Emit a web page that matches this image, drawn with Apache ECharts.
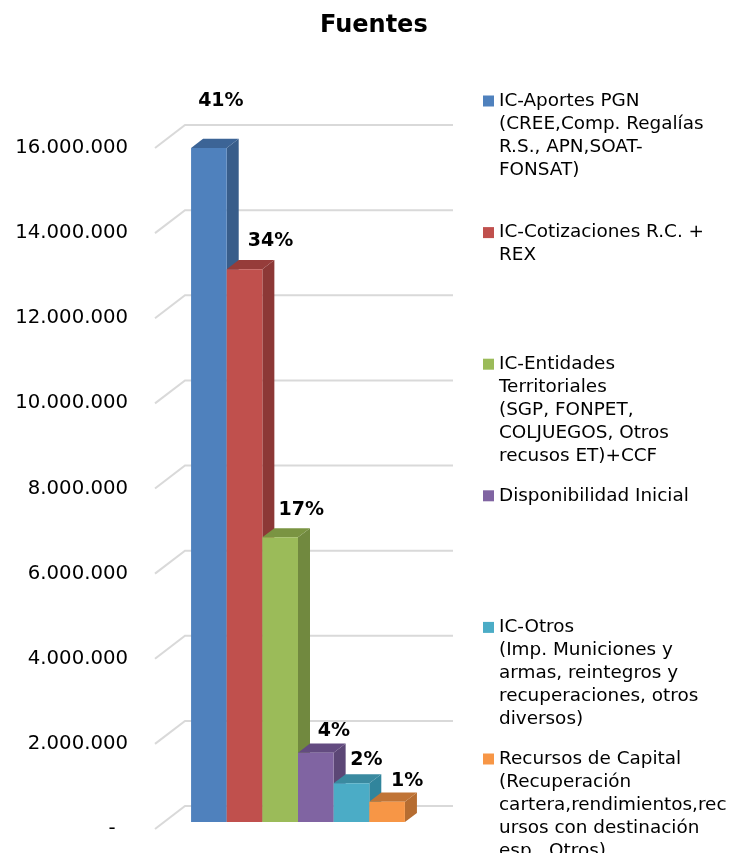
<!DOCTYPE html>
<html>
<head>
<meta charset="utf-8">
<script src="https://cdn.jsdelivr.net/npm/echarts@6/dist/echarts.min.js"></script>
<style>
  html, body { margin: 0; padding: 0; background: #fff; }
  #chart { width: 736px; height: 853px; }
</style>
</head>
<body>
<div id="chart"></div>
<script>
// ---- data ----
const categories = ['Fuentes'];
const seriesNames = [
  'IC-Aportes PGN\n(CREE,Comp. Regalías\nR.S., APN,SOAT-\nFONSAT)',
  'IC-Cotizaciones R.C. +\nREX',
  'IC-Entidades\nTerritoriales\n(SGP, FONPET,\nCOLJUEGOS, Otros\nrecusos ET)+CCF',
  'Disponibilidad Inicial',
  'IC-Otros\n(Imp. Municiones y\narmas, reintegros y\nrecuperaciones, otros\ndiversos)',
  'Recursos de Capital\n(Recuperación\ncartera,rendimientos,rec\nursos con destinación\nesp., Otros)'
];
const seriesValues = [15840000, 12990000, 6690000, 1630000, 910000, 480000];
const pctLabels = ['41%', '34%', '17%', '4%', '2%', '1%'];
const yTicks = [0, 2000000, 4000000, 6000000, 8000000, 10000000, 12000000, 14000000, 16000000];

// front, side, top colours
const barColors = [
  ['#4f81bd', '#385d8a', '#3c6496'],
  ['#c0504d', '#8c3836', '#963c3a'],
  ['#9bbb59', '#71893f', '#7a9442'],
  ['#8064a2', '#5c4776', '#634b80'],
  ['#4bacc6', '#31859c', '#3a8aa0'],
  ['#f79646', '#b66d31', '#c07436']
];
// small label nudges (px) as in the original picture
const labelShift = [[-6, -22], [8, -3], [3, -2], [0, 3], [-3, 2], [2, 4]];

const FONT = 'DejaVu Sans';
const DEPTH = [30, -23];     // full depth of the 3d box (px)
const BAR_RATIO = 0.133;      // width of one bar in the category band
const LEGEND_LH = 23;

function fmtNum(v) {
  if (v === 0) return '-  ';
  return String(v).replace(/\B(?=(\d{3})+(?!\d))/g, '.');
}

// gridlines in oblique perspective
function gridRenderer(params, api) {
  const cs = params.coordSys;
  const p = api.coord([0, api.value(1)]);
  const x = cs.x, y = p[1];
  return {
    type: 'polyline',
    shape: { points: [[x, y], [x + DEPTH[0], y + DEPTH[1]], [x + cs.width + DEPTH[0], y + DEPTH[1]]] },
    style: { stroke: '#d9d9d9', lineWidth: 2, fill: null }
  };
}

function barRenderer(idx) {
  return function (params, api) {
    const base = api.coord([api.value(0), 0]);
    const top = api.coord([api.value(0), api.value(1)]);
    const band = api.size([1, 0])[0];
    const w = band * BAR_RATIO;
    const fx = DEPTH[0] * 0.3, fy = DEPTH[1] * 0.3;
    const bx = DEPTH[0] * 0.4, by = DEPTH[1] * 0.4;
    const x0 = base[0] + (idx - seriesNames.length / 2) * w + fx;
    const x1 = x0 + w;
    const yt = top[1] + fy, yb = base[1] + fy;
    const c = barColors[idx];
    return {
      type: 'group',
      children: [
        {
          type: 'polygon',
          shape: { points: [[x1, yt], [x1 + bx, yt + by], [x1 + bx, yb + by], [x1, yb]] },
          style: { fill: c[1] }
        },
        {
          type: 'polygon',
          shape: { points: [[x0, yt], [x0 + bx, yt + by], [x1 + bx, yt + by], [x1, yt]] },
          style: { fill: c[2] }
        },
        {
          type: 'rect',
          shape: { x: x0, y: yt, width: w, height: yb - yt },
          style: { fill: c[0] }
        },
        {
          type: 'text',
          style: {
            text: pctLabels[idx],
            x: (x0 + x1) / 2 + 18 + labelShift[idx][0],
            y: yt - 25 + labelShift[idx][1],
            align: 'center',
            verticalAlign: 'middle',
            fontFamily: FONT,
            fontSize: 19,
            fontWeight: 'bold',
            fill: '#000'
          }
        }
      ]
    };
  };
}

const series = [{
  type: 'custom',
  name: '_grid',
  silent: true,
  z: 1,
  renderItem: gridRenderer,
  data: yTicks.map(v => [0, v])
}];
seriesNames.forEach((name, i) => {
  series.push({
    type: 'custom',
    name: name,
    z: 2,
    itemStyle: { color: barColors[i][0] },
    renderItem: barRenderer(i),
    data: [[0, seriesValues[i]]]
  });
});

// one legend per entry so that every entry starts at the same spacing
const legends = seriesNames.map((name, i) => {
  const n = name.split('\n').length;
  const center = 101 + i * 131.6;
  return {
    data: [name],
    orient: 'vertical',
    left: 483,
    top: center - (2 * n - 1) * LEGEND_LH / 2,
    padding: 0,
    itemWidth: 11,
    itemHeight: 11,
    icon: 'rect',
    selectedMode: false,
    formatter: t => '\n'.repeat(n - 1) + t,
    textStyle: { fontFamily: FONT, fontSize: 18.4, lineHeight: LEGEND_LH, color: '#000' }
  };
});

const chart = echarts.init(document.getElementById('chart'));
chart.setOption({
  animation: false,
  backgroundColor: '#fff',
  title: {
    text: 'Fuentes',
    left: 320,
    top: 14,
    padding: 0,
    textStyle: { fontFamily: FONT, fontSize: 24, fontWeight: 'bold', color: '#000' }
  },
  legend: legends,
  grid: { left: 155, right: 313, top: 148, bottom: 24, containLabel: false },
  xAxis: {
    type: 'category',
    data: categories,
    axisLine: { show: false },
    axisTick: { show: false },
    axisLabel: { show: false },
    splitLine: { show: false }
  },
  yAxis: {
    type: 'value',
    min: 0,
    max: 16000000,
    interval: 2000000,
    axisLine: { show: false },
    axisTick: { show: false },
    splitLine: { show: false },
    axisLabel: {
      margin: 27,
      fontFamily: FONT,
      fontSize: 19.7,
      color: '#000',
      formatter: fmtNum
    }
  },
  series: series
});
</script>
</body>
</html>
